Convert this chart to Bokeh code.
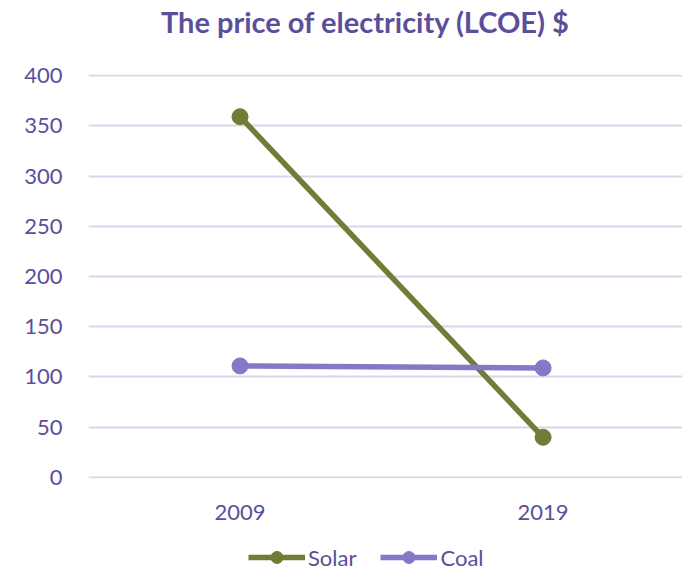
from bokeh.plotting import figure
from bokeh.layouts import column
from bokeh.models import Legend, LegendItem, ColumnDataSource, Range1d, Label
from bokeh.embed import file_html
from bokeh.resources import INLINE

title_text = "The price of electricity (LCOE) $"
years = ["2009", "2019"]
solar = [359, 40]
coal = [111, 109]
series_names = ["Solar", "Coal"]
y_ticks = [0, 50, 100, 150, 200, 250, 300, 350, 400]

TXT = "#5B4F9A"
SOLAR_C = "#6E7D37"
COAL_C = "#8678C6"
GRID = "#D9D5EA"
FONT = "Lato"
W = 682
LEFT = 88          # frame left edge; column() aligns all frames to it
FW = W - LEFT      # frame width


def strip(h, yr):
    f = figure(x_range=Range1d(0, FW), y_range=yr, width=W, height=h,
               output_backend="svg", toolbar_location=None,
               min_border_left=0, min_border_right=0, min_border_top=0,
               min_border_bottom=0)
    f.axis.visible = False
    f.grid.visible = False
    f.outline_line_color = None
    return f


# title strip (x measured from the aligned frame's left edge)
tf = strip(48, Range1d(0, 48))
tf.add_layout(Label(x=365 - LEFT, y=27, text=title_text, text_align="center",
                    text_baseline="middle", text_color=TXT, text_font=FONT,
                    text_font_style="bold", text_font_size="29px"))

# main chart: each year sits in the middle of its category slot
xpos = [i + 0.5 for i in range(len(years))]

p = figure(x_range=Range1d(0, 1.96), y_range=Range1d(-1, 401), width=W, height=482,
           output_backend="svg", toolbar_location=None,
           min_border_left=LEFT, min_border_right=0, min_border_top=26,
           min_border_bottom=52)
p.outline_line_color = None
p.background_fill_color = "white"

src_s = ColumnDataSource(dict(x=xpos, y=solar))
src_c = ColumnDataSource(dict(x=xpos, y=coal))
p.line("x", "y", source=src_s, line_color=SOLAR_C, line_width=5.5)
p.scatter("x", "y", source=src_s, size=16, color=SOLAR_C)
p.line("x", "y", source=src_c, line_color=COAL_C, line_width=5.5)
p.scatter("x", "y", source=src_c, size=16, color=COAL_C)

p.yaxis.ticker = y_ticks
p.xaxis.ticker = xpos
p.xaxis.major_label_overrides = {x: y for x, y in zip(xpos, years)}
p.xgrid.grid_line_color = None
p.ygrid.grid_line_color = GRID
p.ygrid.grid_line_width = 2
for ax in (p.xaxis, p.yaxis):
    ax.axis_line_color = None
    ax.major_tick_line_color = None
    ax.minor_tick_line_color = None
    ax.major_label_text_color = TXT
    ax.major_label_text_font = FONT
    ax.major_label_text_font_size = "22px"
p.yaxis.major_label_standoff = 20
p.xaxis.major_label_standoff = 20

# legend strip below the chart (series drawn out of view, used for legend glyphs)
lg = strip(42, Range1d(-2000, -1999))
lg.x_range = Range1d(0, 1)
items = []
for name, src, col in zip(series_names, [src_s, src_c], [SOLAR_C, COAL_C]):
    r1 = lg.line("x", "y", source=src, line_color=col, line_width=5.5)
    r2 = lg.scatter("x", "y", source=src, size=16, color=col)
    items.append(LegendItem(label=name, renderers=[r1, r2]))

legend = Legend(items=items, orientation="horizontal", location=(248 - LEFT, 0),
                label_text_color=TXT, label_text_font=FONT,
                label_text_font_size="22px", glyph_width=57, glyph_height=30,
                border_line_color=None, background_fill_alpha=0,
                spacing=24, label_standoff=3, margin=0, padding=0)
lg.add_layout(legend)

open("out.html", "w").write(file_html(column(tf, p, lg), INLINE))
